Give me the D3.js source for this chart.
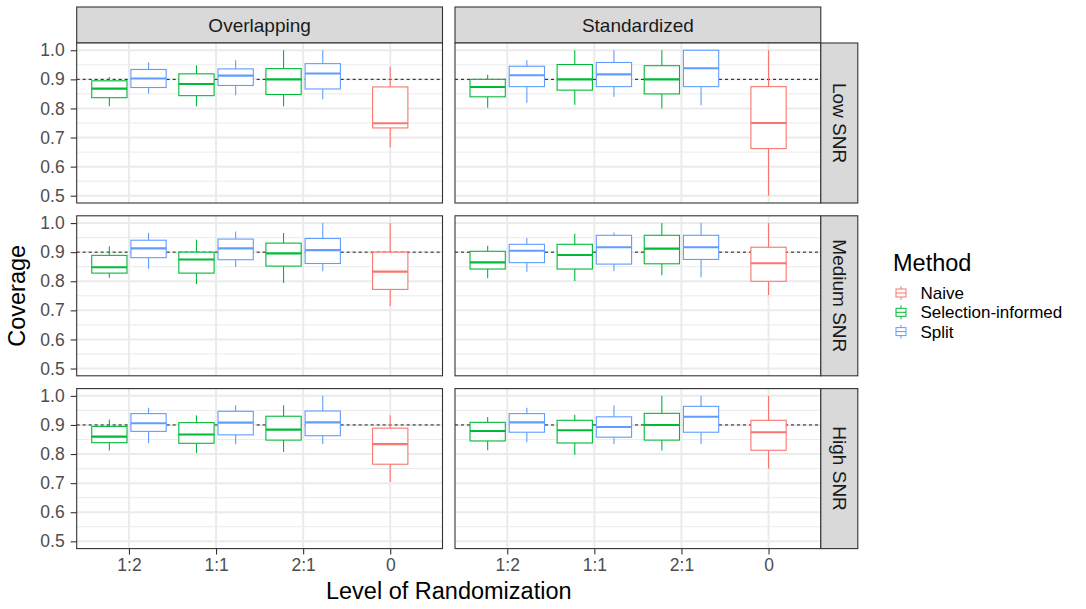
<!DOCTYPE html>
<html><head><meta charset="utf-8">
<script src="https://cdn.jsdelivr.net/npm/d3@7"></script>
<style>body{margin:0;background:#fff;} text{font-family:"Liberation Sans",Arial,sans-serif;}</style>
</head><body>
<svg id="chart" width="1086" height="609"></svg>
<script>
const levels = ["1:2","1:1","2:1","0"];
const methods = ["Naive","Selection-informed","Split"];
const colors = ["#F8766D","#00BA38","#619CFF"];
const cols = ["Overlapping","Standardized"];
const rows = ["Low SNR","Medium SNR","High SNR"];
const yTicks = [0.5,0.6,0.7,0.8,0.9,1.0];
const target = 0.9;
// boxes: [col, row, level, method, lowWhisker, q1, median, q3, highWhisker]
const boxOverLow = [
  ["Overlapping","Low SNR","1:2","Selection-informed",0.808,0.837,0.868,0.895,0.908],
  ["Overlapping","Low SNR","1:2","Split",0.851,0.872,0.903,0.934,0.958],
  ["Overlapping","Low SNR","1:1","Selection-informed",0.808,0.844,0.884,0.919,0.948],
  ["Overlapping","Low SNR","1:1","Split",0.845,0.879,0.913,0.936,0.966],
  ["Overlapping","Low SNR","2:1","Selection-informed",0.808,0.848,0.900,0.937,1.000],
  ["Overlapping","Low SNR","2:1","Split",0.832,0.867,0.920,0.954,1.000],
  ["Overlapping","Low SNR","0","Naive",0.666,0.733,0.749,0.874,0.943]
];
const boxStdLow = [
  ["Standardized","Low SNR","1:2","Selection-informed",0.802,0.840,0.874,0.900,0.916],
  ["Standardized","Low SNR","1:2","Split",0.820,0.875,0.914,0.945,0.966],
  ["Standardized","Low SNR","1:1","Selection-informed",0.813,0.863,0.900,0.951,1.000],
  ["Standardized","Low SNR","1:1","Split",0.840,0.875,0.917,0.958,1.000],
  ["Standardized","Low SNR","2:1","Selection-informed",0.800,0.850,0.900,0.947,1.000],
  ["Standardized","Low SNR","2:1","Split",0.811,0.875,0.938,1.000,1.000],
  ["Standardized","Low SNR","0","Naive",0.500,0.662,0.750,0.875,1.000]
];
const boxOverMed = [
  ["Overlapping","Medium SNR","1:2","Selection-informed",0.812,0.828,0.848,0.889,0.920],
  ["Overlapping","Medium SNR","1:2","Split",0.843,0.881,0.913,0.941,0.966],
  ["Overlapping","Medium SNR","1:1","Selection-informed",0.790,0.828,0.875,0.900,0.943],
  ["Overlapping","Medium SNR","1:1","Split",0.849,0.874,0.913,0.945,0.971],
  ["Overlapping","Medium SNR","2:1","Selection-informed",0.794,0.852,0.896,0.931,0.966],
  ["Overlapping","Medium SNR","2:1","Split",0.834,0.861,0.907,0.947,1.000],
  ["Overlapping","Medium SNR","0","Naive",0.715,0.772,0.833,0.900,1.000]
];
const boxStdMed = [
  ["Standardized","Medium SNR","1:2","Selection-informed",0.810,0.842,0.865,0.903,0.922],
  ["Standardized","Medium SNR","1:2","Split",0.833,0.864,0.905,0.927,0.949],
  ["Standardized","Medium SNR","1:1","Selection-informed",0.801,0.842,0.890,0.927,0.963],
  ["Standardized","Medium SNR","1:1","Split",0.835,0.859,0.917,0.958,0.968],
  ["Standardized","Medium SNR","2:1","Selection-informed",0.821,0.860,0.912,0.958,1.000],
  ["Standardized","Medium SNR","2:1","Split",0.814,0.875,0.917,0.958,1.000],
  ["Standardized","Medium SNR","0","Naive",0.752,0.800,0.862,0.917,1.000]
];
const boxOverHigh = [
  ["Overlapping","High SNR","1:2","Selection-informed",0.812,0.839,0.860,0.895,0.919],
  ["Overlapping","High SNR","1:2","Split",0.837,0.878,0.906,0.939,0.959],
  ["Overlapping","High SNR","1:1","Selection-informed",0.804,0.837,0.867,0.908,0.933],
  ["Overlapping","High SNR","1:1","Split",0.834,0.866,0.908,0.947,0.968],
  ["Overlapping","High SNR","2:1","Selection-informed",0.807,0.848,0.884,0.930,0.968],
  ["Overlapping","High SNR","2:1","Split",0.834,0.863,0.909,0.948,1.000],
  ["Overlapping","High SNR","0","Naive",0.704,0.765,0.834,0.889,0.933]
];
const boxStdHigh = [
  ["Standardized","High SNR","1:2","Selection-informed",0.813,0.845,0.879,0.909,0.927],
  ["Standardized","High SNR","1:2","Split",0.841,0.875,0.909,0.939,0.959],
  ["Standardized","High SNR","1:1","Selection-informed",0.798,0.838,0.882,0.916,0.935],
  ["Standardized","High SNR","1:1","Split",0.834,0.858,0.893,0.928,0.968],
  ["Standardized","High SNR","2:1","Selection-informed",0.812,0.848,0.900,0.940,1.000],
  ["Standardized","High SNR","2:1","Split",0.834,0.875,0.928,0.964,1.000],
  ["Standardized","High SNR","0","Naive",0.750,0.813,0.875,0.916,1.000]
];
const boxes = [].concat(boxOverLow,boxStdLow,boxOverMed,boxStdMed,boxOverHigh,boxStdHigh);

const svg = d3.select("#chart");
const colX = d3.scaleOrdinal().domain(cols).range([76.7,455]);
const rowY = d3.scaleOrdinal().domain(rows).range([43,215.8,388.6]);
const pw = 365.8, ph = 160, stripH = 36, stripW = 37;
const color = d3.scaleOrdinal().domain(methods).range(colors);
const x = d3.scalePoint().domain(levels).range([0,pw]).padding(0.6);
const step = x.step();
const y = d3.scaleLinear().domain([0.475,1.025]).range([ph,0]);
const minorTicks = [0.55,0.65,0.75,0.85,0.95];
const FONT = "Liberation Sans, Arial, sans-serif";

cols.forEach((c,ci)=>{
  const sx = colX(c);
  svg.append("rect").attr("x",sx).attr("y",rowY(rows[0])-stripH).attr("width",pw).attr("height",stripH)
     .attr("fill","#D9D9D9").attr("stroke","#333333").attr("stroke-width",1.1);
  svg.append("text").attr("x",sx+pw/2).attr("y",rowY(rows[0])-stripH/2).attr("dy","0.35em")
     .attr("text-anchor","middle").attr("font-size",19).attr("fill","#1A1A1A").text(c);
  rows.forEach((r,ri)=>{
    const g = svg.append("g").attr("transform",`translate(${colX(c)},${rowY(r)})`);
    g.append("rect").attr("width",pw).attr("height",ph).attr("fill","#fff");
    g.selectAll(".mn").data(minorTicks).join("line").attr("x1",0).attr("x2",pw)
      .attr("y1",d=>y(d)).attr("y2",d=>y(d)).attr("stroke","#EBEBEB").attr("stroke-width",1);
    g.selectAll(".mj").data(yTicks).join("line").attr("x1",0).attr("x2",pw)
      .attr("y1",d=>y(d)).attr("y2",d=>y(d)).attr("stroke","#EBEBEB").attr("stroke-width",2);
    g.selectAll(".mx").data(levels).join("line").attr("y1",0).attr("y2",ph)
      .attr("x1",d=>x(d)).attr("x2",d=>x(d)).attr("stroke","#EBEBEB").attr("stroke-width",2);
    g.append("line").attr("x1",0).attr("x2",pw).attr("y1",y(target)).attr("y2",y(target))
      .attr("stroke","#000").attr("stroke-width",0.9).attr("stroke-dasharray","3,3");
    const data = boxes.filter(b=>b[0]===c && b[1]===r);
    data.forEach(b=>{
      const lev=b[2], m=b[3];
      const grp = data.filter(d=>d[2]===lev);
      const n = grp.length;
      const idx = grp.findIndex(d=>d[3]===m);
      const slot = step*0.9/n;
      const bw = step*0.9/2*0.9;
      const cx = x(lev) - step*0.45 + slot*(idx+0.5);
      const col = color(m);
      const bg = g.append("g").attr("stroke",col).attr("fill","none");
      bg.append("line").attr("x1",cx).attr("x2",cx).attr("y1",y(b[8])).attr("y2",y(b[7])).attr("stroke-width",1.1);
      bg.append("line").attr("x1",cx).attr("x2",cx).attr("y1",y(b[5])).attr("y2",y(b[4])).attr("stroke-width",1.1);
      bg.append("rect").attr("x",cx-bw/2).attr("y",y(b[7])).attr("width",bw).attr("height",y(b[5])-y(b[7]))
        .attr("fill","#fff").attr("stroke-width",1.1);
      bg.append("line").attr("x1",cx-bw/2).attr("x2",cx+bw/2).attr("y1",y(b[6])).attr("y2",y(b[6])).attr("stroke-width",2.1);
    });
    g.append("rect").attr("width",pw).attr("height",ph).attr("fill","none").attr("stroke","#333333").attr("stroke-width",1.1);
    if(ci===0){
      const ax = g.append("g").call(d3.axisLeft(y).tickValues(yTicks).tickFormat(d3.format(".1f")).tickSize(6).tickPadding(6));
      ax.select(".domain").remove();
      ax.selectAll("line").attr("stroke","#333333").attr("stroke-width",1.1);
      ax.selectAll("text").attr("font-size",17.5).attr("fill","#4D4D4D").attr("font-family",FONT);
    }
    if(ri===rows.length-1){
      const ax = g.append("g").attr("transform",`translate(0,${ph})`)
        .call(d3.axisBottom(x).tickSize(6).tickPadding(4));
      ax.select(".domain").remove();
      ax.selectAll("line").attr("stroke","#333333").attr("stroke-width",1.1);
      ax.selectAll("text").attr("font-size",17.5).attr("fill","#4D4D4D").attr("font-family",FONT);
    }
    if(ci===cols.length-1){
      svg.append("rect").attr("x",colX(c)+pw).attr("y",rowY(r)).attr("width",stripW).attr("height",ph)
        .attr("fill","#D9D9D9").attr("stroke","#333333").attr("stroke-width",1.1);
      svg.append("text").attr("transform",`translate(${colX(c)+pw+stripW/2},${rowY(r)+ph/2}) rotate(90)`)
        .attr("dy","0.35em").attr("text-anchor","middle").attr("font-size",19).attr("fill","#1A1A1A").text(r);
    }
  });
});

// axis titles
svg.append("text").attr("x",(76.7+455+pw)/2).attr("y",599).attr("text-anchor","middle")
  .attr("font-size",23.5).attr("fill","#000").text("Level of Randomization");
svg.append("text").attr("transform",`translate(25,${(43+388.6+ph)/2}) rotate(-90)`).attr("text-anchor","middle")
  .attr("font-size",23.5).attr("fill","#000").text("Coverage");

// legend
const lg = svg.append("g").attr("transform","translate(893,0)");
lg.append("text").attr("x",0).attr("y",271).attr("font-size",23.5).attr("fill","#000").text("Method");
methods.forEach((m,i)=>{
  const cy = 293 + i*19.3;
  const k = lg.append("g").attr("stroke",color(m)).attr("fill","#fff").attr("stroke-width",1);
  k.append("line").attr("x1",8).attr("x2",8).attr("y1",cy-7).attr("y2",cy+7);
  k.append("rect").attr("x",3).attr("y",cy-4).attr("width",10).attr("height",8);
  k.append("line").attr("x1",3).attr("x2",13).attr("y1",cy).attr("y2",cy);
  lg.append("text").attr("x",27.5).attr("y",cy).attr("dy","0.35em").attr("font-size",17).attr("fill","#000").text(m);
});
</script>
</body></html>
